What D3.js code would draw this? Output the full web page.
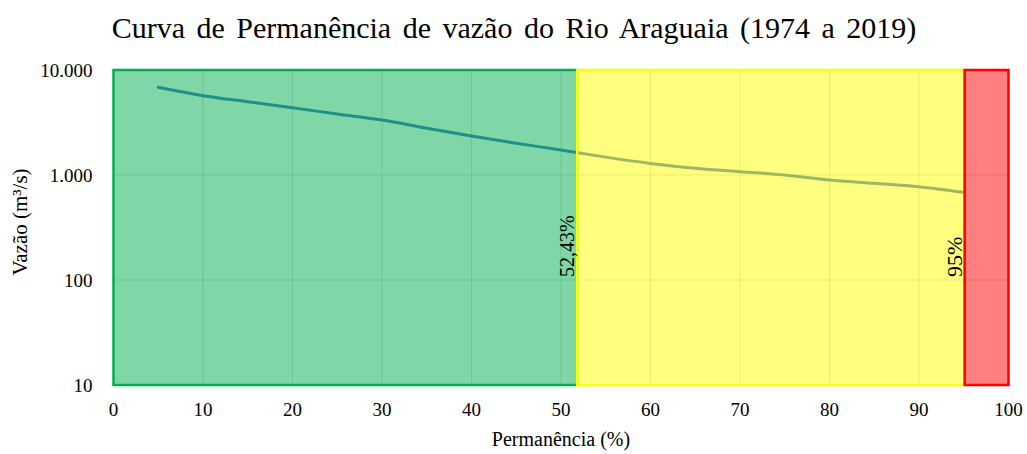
<!DOCTYPE html>
<meta charset="utf-8">
<head>
<script src="https://d3js.org/d3.v7.min.js"></script>
<style>
body { margin: 0; background: #fff; }
text { font-family: "Liberation Serif", "Times New Roman", serif; fill: #000; }
</style>
</head>
<body>
<div id="chart"></div>
<script>
// curve points: permanence (%) and flow (m3/s)
var permanencia = [5, 10, 15, 20, 25, 30, 35, 40, 45, 50, 52.43, 55, 60, 65, 70, 75, 80, 85, 90, 95];
var vazao = [6840, 5690, 4990, 4375, 3810, 3340, 2790, 2350, 2005, 1730, 1600, 1480, 1290, 1160, 1075, 1000, 895, 834, 774, 684];

// zones drawn over the curve
var zonaInicio = [0, 51.8, 95.1];
var zonaFim = [51.8, 95.1, 100];
var zonaCor = ["#00B050", "#FFFF00", "#FF0000"];
var marcos = [51.8, 95.1];
var marcosTexto = ["52,43%", "95%"];

var xTicks = [0, 10, 20, 30, 40, 50, 60, 70, 80, 90, 100];
var yTicks = [10, 100, 1000, 10000];

var W = 1027, H = 454;
var margin = {top: 70, right: 18.5, bottom: 69, left: 113.5},
    width = W - margin.left - margin.right,
    height = H - margin.top - margin.bottom;

var pt = d3.formatLocale({decimal: ",", thousands: ".", grouping: [3], currency: ["R$", ""]});
var fmt = pt.format(",d");

var svg = d3.select("#chart").append("svg")
    .attr("width", W)
    .attr("height", H);

var g = svg.append("g")
    .attr("transform", "translate(" + margin.left + "," + margin.top + ")");

var x = d3.scaleLinear().domain([0, 100]).range([0, width]);
var y = d3.scaleLog().domain([10, 10000]).range([height, 0]);

// gridlines
g.append("g").selectAll("line")
  .data(xTicks).enter().append("line")
    .attr("x1", function(d) { return x(d); })
    .attr("x2", function(d) { return x(d); })
    .attr("y1", 0).attr("y2", height)
    .attr("stroke", "#d9d9d9").attr("stroke-width", 1);
g.append("g").selectAll("line")
  .data(yTicks).enter().append("line")
    .attr("x1", 0).attr("x2", width)
    .attr("y1", function(d) { return y(d); })
    .attr("y2", function(d) { return y(d); })
    .attr("stroke", "#d9d9d9").attr("stroke-width", 1);

// plot area border
g.append("rect")
    .attr("x", 0).attr("y", 0)
    .attr("width", width).attr("height", height)
    .attr("fill", "none")
    .attr("stroke", "#d9d9d9");

// the curve
var line = d3.line()
    .curve(d3.curveMonotoneX)
    .x(function(d, i) { return x(permanencia[i]); })
    .y(function(d) { return y(d); });

g.append("path")
    .datum(vazao)
    .attr("fill", "none")
    .attr("stroke", "#3F6FC4")
    .attr("stroke-width", 3)
    .attr("stroke-linecap", "round")
    .attr("d", line);

// semi transparent zones on top
g.append("g").selectAll("rect")
  .data(zonaInicio).enter().append("rect")
    .attr("x", function(d) { return x(d); })
    .attr("y", 0)
    .attr("width", function(d, i) { return x(zonaFim[i]) - x(d); })
    .attr("height", height)
    .attr("fill", function(d, i) { return zonaCor[i]; })
    .attr("fill-opacity", 0.5)
    .attr("stroke", function(d, i) { return zonaCor[i]; })
    .attr("stroke-width", 2.5);

// rotated labels at the limits
g.append("g").selectAll("text")
  .data(marcos).enter().append("text")
    .attr("transform", function(d) { return "translate(" + (x(d) - 3) + "," + (y(100) - 3) + ") rotate(-90)"; })
    .attr("font-size", function(d, i) { return i === 0 ? 20 : 22; })
    .text(function(d, i) { return marcosTexto[i]; });

// axes labels
g.append("g").selectAll("text")
  .data(xTicks).enter().append("text")
    .attr("x", function(d) { return x(d); })
    .attr("y", height + 31)
    .attr("text-anchor", "middle")
    .attr("font-size", 19)
    .text(function(d) { return d; });

g.append("g").selectAll("text")
  .data(yTicks).enter().append("text")
    .attr("x", -21)
    .attr("y", function(d) { return y(d); })
    .attr("dy", "0.35em")
    .attr("text-anchor", "end")
    .attr("font-size", 19)
    .text(function(d) { return fmt(d); });

svg.append("text")
    .attr("x", margin.left + x(50))
    .attr("y", 446)
    .attr("text-anchor", "middle")
    .attr("font-size", 20)
    .text("Permanência (%)");

svg.append("text")
    .attr("transform", "translate(27," + 222 + ") rotate(-90)")
    .attr("text-anchor", "middle")
    .attr("font-size", 21)
    .text("Vazão (m³/s)");

svg.append("text")
    .attr("x", 514)
    .attr("y", 38)
    .attr("text-anchor", "middle")
    .attr("font-size", 30)
    .attr("word-spacing", 4)
    .text("Curva de Permanência de vazão do Rio Araguaia (1974 a 2019)");
</script>
</body>
</html>
